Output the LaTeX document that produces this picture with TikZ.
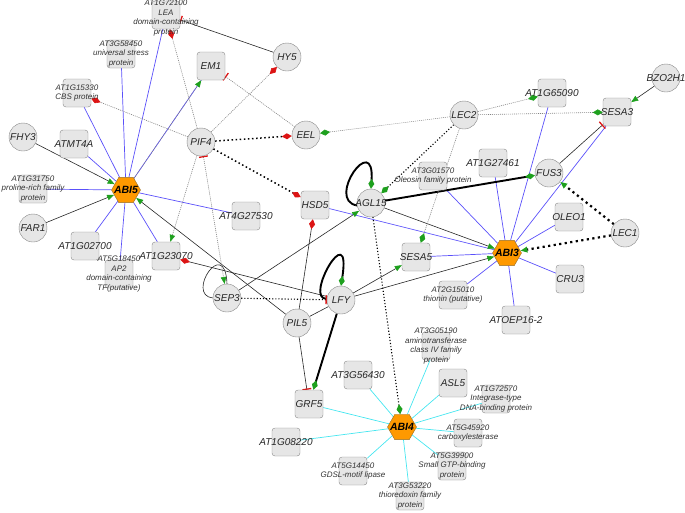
\documentclass[tikz,border=0pt]{standalone}
\usepackage{fontspec}
\setmainfont{Liberation Sans}
\usepackage{tikz}
\usetikzlibrary{arrows.meta, shapes.geometric}
\usepackage{xcolor}

\pgfdeclarelayer{bg}
\pgfsetlayers{bg,main}

\definecolor{nodefill}{RGB}{230,230,230}
\definecolor{nodeline}{RGB}{135,135,135}
\definecolor{hubfill}{RGB}{255,153,0}
\definecolor{hubline}{RGB}{150,110,40}
\definecolor{edgeblue}{RGB}{90,80,250}
\definecolor{edgecyan}{RGB}{70,230,240}
\definecolor{edgegray}{RGB}{130,130,130}
\definecolor{tipgreen}{RGB}{30,160,30}
\definecolor{tipred}{RGB}{220,20,20}

\tikzset{
  gene/.style={circle, draw=nodeline, fill=nodefill, minimum size=28pt, inner sep=0pt},
  prot/.style={rectangle, rounded corners=3pt, draw=nodeline, fill=nodefill, minimum size=28pt, inner sep=0pt},
  hub/.style={regular polygon, regular polygon sides=6, minimum size=29pt, inner sep=0pt, draw=hubline, fill=hubfill},
  lbl/.style={font=\fontsize{10}{12}\selectfont\itshape, text=black!85},
  sml/.style={font=\fontsize{8}{9.5}\selectfont\itshape, align=center, text=black!80},
  hublbl/.style={font=\fontsize{10.5}{12}\selectfont\bfseries\itshape},
  blu/.style={draw=edgeblue, line width=0.7pt},
  cyn/.style={draw=edgecyan, line width=0.7pt},
  blk/.style={draw=black!85, line width=0.6pt},
  thk/.style={draw=black, line width=1.9pt},
  gry/.style={draw=edgegray, line width=0.6pt, dash pattern=on 1pt off 1pt},
  dotm/.style={draw=black, line width=1.1pt, dash pattern=on 1.1pt off 2pt},
  dotd/.style={draw=black, line width=1.5pt, dash pattern=on 1.5pt off 2.6pt},
  dotdd/.style={draw=black, line width=2.2pt, dash pattern=on 2.2pt off 3.4pt},
  gtri/.tip={Triangle[color=tipgreen, length=7pt, width=5.5pt]},
  gdia/.tip={Diamond[color=tipgreen, length=10pt, width=6pt]},
  rdia/.tip={Diamond[color=tipred, length=10pt, width=6pt]},
  rbar/.tip={Bar[color=tipred, width=9pt, line width=1.3pt]},
}

\begin{document}
\begin{tikzpicture}[x=1pt, y=-1pt]
  \useasboundingbox (0,0) rectangle (685,512);

  % hubs
  \node[hub, label={[hublbl]center:ABI5}] (abi5) at (126,190) {};
  \node[hub, label={[hublbl]center:ABI3}] (abi3) at (507,253) {};
  \node[hub, label={[hublbl]center:ABI4}] (abi4) at (402,427) {};

  % regulators
  \node[gene, label={[lbl]center:FHY3}] (fhy3) at (23,137) {};
  \node[gene, label={[lbl]center:FAR1}] (far1) at (33,228) {};
  \node[gene, label={[lbl]center:PIF4}] (pif4) at (201,142) {};
  \node[gene, label={[lbl]center:HY5}] (hy5) at (287,57) {};
  \node[gene, label={[lbl]center:EEL}] (eel) at (306,135) {};
  \node[gene, label={[lbl]center:LEC2}] (lec2) at (464,115) {};
  \node[gene, label={[lbl]center:BZO2H1}] (bzo) at (666,78) {};
  \node[gene, label={[lbl]center:FUS3}] (fus3) at (549,173) {};
  \node[gene, label={[lbl]center:LEC1}] (lec1) at (625,233) {};
  \node[gene, label={[lbl]center:AGL15}] (agl15) at (371,203) {};
  \node[gene, label={[lbl]center:SEP3}] (sep3) at (227,298) {};
  \node[gene, label={[lbl]center:LFY}] (lfy) at (341,300) {};
  \node[gene, label={[lbl]center:PIL5}] (pil5) at (297,323) {};

  % targets of ABI5
  \node[prot, label={[sml,yshift=-3pt]center:{AT1G72100\\LEA\\domain-containing\\protein}}] (at1g72100) at (166,15) {};
  \node[prot, label={[sml]center:{AT3G58450\\universal stress\\protein}}] (at3g58450) at (121,54) {};
  \node[prot, label={[lbl]center:EM1}] (em1) at (211,66) {};
  \node[prot, label={[sml]center:{AT1G15330\\CBS protein}}] (at1g15330) at (77,93) {};
  \node[prot, label={[lbl]center:ATMT4A}] (atmt4a) at (74,144) {};
  \node[prot, label={[sml]center:{AT1G31750\\proline-rich family\\protein}}] (at1g31750) at (33,189) {};
  \node[prot, label={[lbl]center:AT1G02700}] (at1g02700) at (85,246) {};
  \node[prot, label={[sml]center:{AT5G18450\\AP2\\domain-containing\\TF(putative)}}] (at5g18450) at (119,274) {};
  \node[prot, label={[lbl]center:AT1G23070}] (at1g23070) at (166,256) {};
  \node[prot, label={[lbl]center:AT4G27530}] (at4g27530) at (246,216) {};

  % targets of ABI3
  \node[prot, label={[lbl]center:HSD5}] (hsd5) at (315,205) {};
  \node[prot, label={[sml]center:{AT3G01570\\Oleosin family protein}}] (at3g01570) at (433,176) {};
  \node[prot, label={[lbl]center:AT1G27461}] (at1g27461) at (493,163) {};
  \node[prot, label={[lbl]center:AT1G65090}] (at1g65090) at (552,93) {};
  \node[prot, label={[lbl]center:SESA3}] (sesa3) at (617,112) {};
  \node[prot, label={[lbl]center:OLEO1}] (oleo1) at (569,217) {};
  \node[prot, label={[lbl]center:CRU3}] (cru3) at (570,279) {};
  \node[prot, label={[lbl]center:ATOEP16-2}] (atoep) at (516,320) {};
  \node[prot, label={[lbl]center:SESA5}] (sesa5) at (416,257) {};
  \node[prot, label={[sml]center:{AT2G15010\\thionin (putative)}}] (at2g15010) at (453,295) {};

  % targets of ABI4
  \node[prot, label={[lbl]center:GRF5}] (grf5) at (309,404) {};
  \node[prot, label={[lbl]center:AT3G56430}] (at3g56430) at (358,375) {};
  \node[prot, label={[lbl]center:AT1G08220}] (at1g08220) at (286,442) {};
  \node[prot, label={[sml]center:{AT5G14450\\GDSL-motif lipase}}] (at5g14450) at (353,471) {};
  \node[prot, label={[sml]center:{AT3G53220\\thioredoxin family\\protein}}] (at3g53220) at (410,496) {};
  \node[prot, label={[sml]center:{AT3G05190\\aminotransferase\\class IV family\\protein}}] (at3g05190) at (436,346) {};
  \node[prot, label={[lbl]center:ASL5}] (asl5) at (453,383) {};
  \node[prot, label={[sml]center:{AT1G72570\\Integrase-type\\DNA-binding protein}}] (at1g72570) at (496,399) {};
  \node[prot, label={[sml]center:{AT5G45920\\carboxylesterase}}] (at5g45920) at (468,433) {};
  \node[prot, label={[sml]center:{AT5G39900\\Small GTP-binding\\protein}}] (at5g39900) at (452,466) {};

  \begin{pgfonlayer}{bg}
    % binding targets
    \foreach \t in {at1g72100,at3g58450,em1,at1g15330,atmt4a,at1g31750,at1g02700,at5g18450,at1g23070,at4g27530}
      \draw[blu] (abi5) -- (\t);
    \foreach \t in {hsd5,sesa5,at2g15010,atoep,cru3,oleo1,sesa3,at1g65090,at1g27461,at3g01570}
      \draw[blu] (abi3) -- (\t);
    \foreach \t in {grf5,at3g56430,at1g08220,at5g14450,at3g53220,at3g05190,asl5,at1g72570,at5g45920,at5g39900}
      \draw[cyn] (abi4) -- (\t);

    % solid regulation
    \draw[blk,-gtri] (fhy3) -- (abi5);
    \draw[blk,-gtri] (far1) -- (abi5);
    \draw[blk,-gtri] (pil5) -- (abi5);
    \draw[blk,-rbar] (hy5) -- (at1g72100);
    \draw[blk,-gtri] (sep3) -- (agl15);
    \draw[blk,-rdia] (lfy) -- (at1g23070);
    \draw[blk,-gtri] (lfy) -- (sesa5);
    \draw[blk,-gtri] (lfy) -- (abi3);
    \draw[blk] (pil5) -- (lfy);
    \draw[blk,-rdia] (pil5) -- (hsd5);
    \draw[blk,-rbar] (pil5) -- (grf5);
    \draw[blk,-gtri] (agl15) -- (abi3);
    \draw[blk,-rbar] (fus3) -- (sesa3);
    \draw[blk,-gtri] (bzo) -- (sesa3);
    \draw[blk] (sep3.west) .. controls (185,295) and (225,235) .. (sep3.north);

    \draw[thk,-gdia] (lfy) -- (grf5);
    \draw[thk,-gdia] (agl15) -- (fus3);
    \draw[thk,-gdia] (agl15.190) .. controls (325,200) and (375,130) .. (agl15.north);
    \draw[thk,-gdia] (lfy.175) .. controls (303,300) and (352,215) .. (lfy.north);

    % dotted regulation
    \draw[dotd,-rdia] (pif4) -- (eel);
    \draw[dotd,-rdia] (pif4) -- (hsd5);
    \draw[dotdd,-gtri] (lec1) -- (fus3);
    \draw[dotdd,-gtri] (lec1) -- (abi3);
    \draw[dotm,-gdia] (lec2) -- (agl15);
    \draw[dotm,-gdia] (agl15) -- (abi4);
    \draw[dotm,-rbar] (sep3) -- (lfy);

    % light gray
    \draw[gry,-rdia] (pif4) -- (at1g72100);
    \draw[gry,-rdia] (pif4) -- (at1g15330);
    \draw[gry,-rdia] (pif4) -- (hy5);
    \draw[gry,-gtri] (pif4) -- (at1g23070);
    \draw[gry,rbar-gtri] (pif4) -- (sep3);
    \draw[gry,-gtri] (abi5) -- (em1);
    \draw[gry,-rbar] (eel) -- (em1);
    \draw[gry,-gdia] (lec2) -- (eel);
    \draw[gry,-gdia] (lec2) -- (at1g65090);
    \draw[gry,-gdia] (lec2) -- (sesa3);
    \draw[gry,-gdia] (lec2) -- (sesa5);
  \end{pgfonlayer}
\end{tikzpicture}
\end{document}
